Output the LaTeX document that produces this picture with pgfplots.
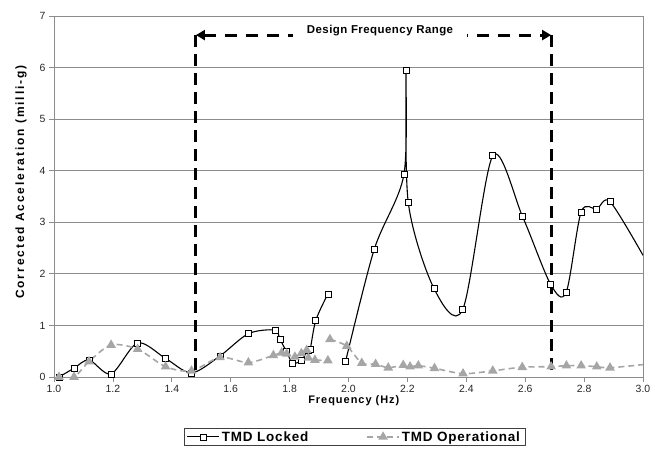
\documentclass[border=0pt]{standalone}
\usepackage{fontspec}
\setmainfont{Liberation Sans}
\newfontfamily\ylabfont[LetterSpace=16]{Liberation Sans}
\newfontfamily\xlabfont[LetterSpace=9]{Liberation Sans}
\newfontfamily\legfont[LetterSpace=6]{Liberation Sans}
\newfontfamily\desfont[LetterSpace=4]{Liberation Sans}
\usepackage{pgfplots}
\pgfplotsset{compat=1.18}
\usetikzlibrary{arrows.meta}
\definecolor{opgray}{HTML}{A6A6A6}
\definecolor{gridgray}{HTML}{8C8C8C}
\begin{document}
\begin{tikzpicture}
\begin{axis}[
  scale only axis,
  width=589bp, height=361bp,
  at={(0,0)}, anchor=south west,
  xmin=1, xmax=3, ymin=0, ymax=7,
  xtick={1.0,1.2,1.4,1.6,1.8,2.0,2.2,2.4,2.6,2.8,3.0},
  ytick={0,1,2,3,4,5,6,7},
  xticklabel style={/pgf/number format/.cd, fixed, fixed zerofill, precision=1},
  /pgf/number format/assume math mode=true,
  tick label style={font=\fontsize{10.5}{12}\selectfont, text=black!85},
  tick align=outside, major tick length=5bp,
  tick style={gridgray, line width=0.8bp},
  xtick pos=bottom, ytick pos=left,
  ymajorgrids, grid style={gridgray, line width=0.8bp},
  axis line style={gridgray, line width=0.8bp},
  xlabel={\xlabfont\bfseries Frequency (Hz)},
  ylabel={\ylabfont\bfseries Corrected Acceleration (milli-g)},
  xlabel style={at={(axis description cs:0.509,-0.0665)}, anchor=center, inner sep=0pt, font=\fontsize{11}{13}\selectfont},
  ylabel style={at={(axis description cs:-0.056,0.54)}, anchor=center, inner sep=0pt, font=\fontsize{12}{14}\selectfont},
  legend columns=2,
  legend style={at={(axis description cs:0.51,-0.166)}, anchor=center, draw=black!75, line width=0.6bp,
    font=\fontsize{13.5}{15}\selectfont\legfont\bfseries, inner xsep=3bp, inner ysep=1bp,
    /tikz/every even column/.append style={column sep=56bp}},
  legend image code/.code={\draw[mark repeat=2,mark phase=2,#1] plot coordinates {(0bp,0bp) (16bp,0bp) (32bp,0bp)};},
  clip=true,
]
\addlegendimage{black, line width=1.1bp, mark=square*, mark size=3bp, mark options={solid, fill=white, line width=0.7bp}}
\addlegendentry{TMD Locked}
\addlegendimage{opgray, line width=1.6bp, dash pattern=on 6bp off 4bp, mark=triangle*, mark size=4bp, mark options={solid, fill=opgray}}
\addlegendentry{TMD Operational}

% TMD Locked, first run
\addplot[forget plot, smooth, black, line width=1.1bp, mark=square*, mark size=3bp, mark options={solid, fill=white, line width=0.7bp}]
coordinates {(1.017,0.0) (1.068,0.17) (1.119,0.33) (1.194,0.06) (1.284,0.66) (1.379,0.36) (1.467,0.08) (1.564,0.41) (1.660,0.84) (1.750,0.91) (1.767,0.73) (1.790,0.49) (1.810,0.27) (1.839,0.32) (1.862,0.51) (1.870,0.54) (1.889,1.10) (1.930,1.61)};
% TMD Locked, second run
\addplot[forget plot, smooth, black, line width=1.1bp, mark=square*, mark size=3bp, mark indices={1,...,14}, mark options={solid, fill=white, line width=0.7bp}]
coordinates {(1.990,0.30) (2.087,2.47) (2.188,3.92) (2.195,5.95) (2.203,3.38) (2.290,1.72) (2.388,1.31) (2.490,4.29) (2.591,3.11) (2.686,1.80) (2.739,1.64) (2.790,3.20) (2.843,3.26) (2.888,3.40) (3.000,2.36)};

% TMD Operational, first run
\addplot[forget plot, smooth, opgray, line width=1.6bp, dash pattern=on 6bp off 4bp, mark=triangle*, mark size=4bp, mark options={solid, fill=opgray}]
coordinates {(1.017,0.0) (1.068,0.0) (1.119,0.30) (1.194,0.62) (1.284,0.54) (1.379,0.20) (1.467,0.12) (1.564,0.38) (1.660,0.28) (1.745,0.42) (1.773,0.47) (1.790,0.45) (1.818,0.39) (1.840,0.46) (1.858,0.52) (1.864,0.37) (1.886,0.33) (1.930,0.32)};
% TMD Operational, second run
\addplot[forget plot, smooth, opgray, line width=1.6bp, dash pattern=on 6bp off 4bp, mark=triangle*, mark size=4bp, mark indices={1,...,17}, mark options={solid, fill=opgray}]
coordinates {(1.937,0.73) (1.994,0.60) (2.045,0.27) (2.092,0.25) (2.135,0.18) (2.186,0.23) (2.209,0.20) (2.237,0.22) (2.292,0.17) (2.389,0.065) (2.490,0.12) (2.590,0.19) (2.688,0.20) (2.740,0.22) (2.790,0.22) (2.843,0.20) (2.888,0.18) (3.000,0.24)};

% Design frequency range annotation
\draw[line width=3bp, dash pattern=on 12bp off 7bp] (axis cs:1.482,6.63) -- (axis cs:1.482,0);
\draw[line width=3bp, dash pattern=on 12bp off 7bp] (axis cs:2.688,6.63) -- (axis cs:2.688,0);
\draw[line width=3bp, dash pattern=on 12bp off 9bp, {Triangle[length=9bp,width=10bp]}-{Triangle[length=9bp,width=10bp]}] (axis cs:1.482,6.63) -- (axis cs:2.688,6.63);
\node[fill=white, inner xsep=14bp, inner ysep=3bp, font=\fontsize{11.5}{13}\selectfont\desfont\bfseries] at (axis cs:2.107,6.72) {Design Frequency Range};
\end{axis}
\pgfresetboundingbox
\path[use as bounding box] (-54bp,-76bp) rectangle (601bp,377bp);
\end{tikzpicture}
\end{document}
